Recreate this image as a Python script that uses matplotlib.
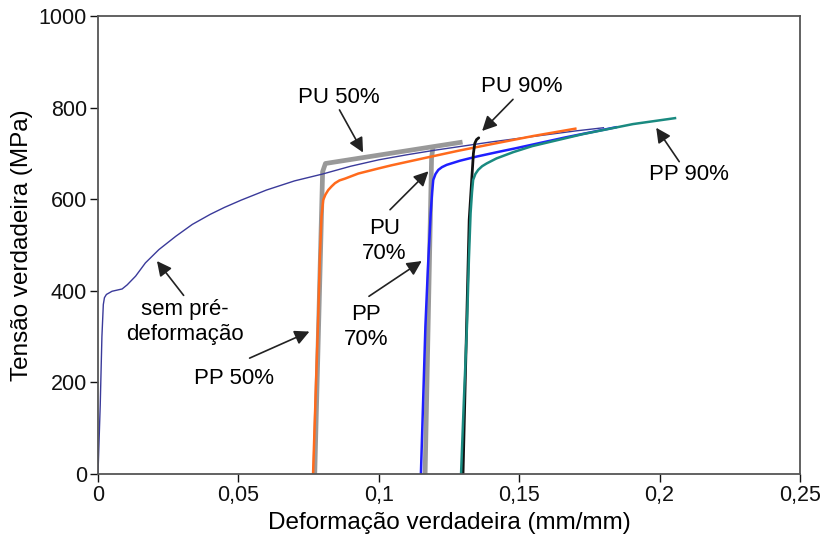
import matplotlib
matplotlib.use("Agg")
import matplotlib.pyplot as plt

plt.rcParams['font.family'] = ['Liberation Sans', 'DejaVu Sans']

# curves (strain mm/mm, stress MPa)
base_x = [0, 0.0008, 0.0014, 0.0019, 0.0023, 0.003, 0.005, 0.0086, 0.0104, 0.0134,
          0.0169, 0.0217, 0.0277, 0.0336, 0.040, 0.045, 0.051, 0.060, 0.070, 0.080,
          0.090, 0.100, 0.110, 0.120, 0.130, 0.140, 0.150, 0.160, 0.170, 0.180]
base_y = [0, 150, 300, 370, 385, 392, 399, 404, 413, 432,
          461, 490, 519, 545, 567, 582, 598, 620, 640, 655,
          672, 686, 697, 707, 716, 725, 733, 741, 749, 756]

pp50_x = [0.0766, 0.0775, 0.0784, 0.0790, 0.0796, 0.0802, 0.0810, 0.0820, 0.0832, 0.0844,
          0.0860, 0.0880, 0.0927, 0.0998, 0.1045, 0.1164, 0.1285, 0.140, 0.155, 0.170]
pp50_y = [0, 170, 337, 470, 562, 598, 610, 620, 628, 635,
          641, 645, 656, 667, 674, 690, 706, 720, 738, 754]

pp70_x = [0.1150, 0.1158, 0.1166, 0.1175, 0.1185, 0.1190, 0.1194, 0.1202, 0.1212, 0.1225,
          0.1242, 0.1289, 0.1348, 0.1431, 0.1486, 0.1665, 0.1844]
pp70_y = [0, 160, 322, 450, 570, 615, 642, 655, 664, 670,
          675, 684, 693, 704, 711, 735, 757]

pp90_x = [0.1293, 0.1303, 0.1314, 0.1321, 0.1327, 0.1332, 0.1336, 0.1344, 0.1354, 0.1368,
          0.1384, 0.1419, 0.1480, 0.1547, 0.1726, 0.1905, 0.2055]
pp90_y = [0, 160, 322, 470, 570, 615, 642, 655, 664, 672,
          678, 689, 703, 716, 742, 764, 777]

pu50_x = [0.0772, 0.0800, 0.0810, 0.129]
pu50_y = [0, 660, 678, 724]

pu70_x = [0.1165, 0.1188, 0.1192]
pu70_y = [0, 690, 709]

pu90_x = [0.1300, 0.1313, 0.1322, 0.1331, 0.1337, 0.1342, 0.1348, 0.1356]
pu90_y = [0, 330, 555, 642, 700, 722, 730, 734]

xticks = [0, 0.05, 0.1, 0.15, 0.2, 0.25]
xtick_labels = ['0', '0,05', '0,1', '0,15', '0,2', '0,25']
yticks = [0, 200, 400, 600, 800, 1000]

# labels: text, text pos, arrow tail, arrow head
notes = [
    ("PU 50%", (0.0856, 823), (0.0860, 795), (0.0944, 702)),
    ("PU 90%", (0.1510, 845), (0.1478, 818), (0.1368, 749)),
    ("PP 90%", (0.2105, 654), (0.2070, 682), (0.1988, 756)),
    ("PU\n70%", (0.1020, 508), (0.1040, 577), (0.1177, 661)),
    ("PP\n70%", (0.0956, 322), (0.0965, 388), (0.1153, 465)),
    ("sem pré-\ndeformação", (0.0311, 331), (0.0305, 390), (0.0210, 465)),
    ("PP 50%", (0.0484, 209), (0.0540, 253), (0.0753, 311)),
]

fig = plt.figure(figsize=(8.22, 5.39), dpi=100)
ax = fig.add_axes([0.1192, 0.1206, 0.854, 0.8497])

ax.plot(pu50_x, pu50_y, color='#999999', lw=3.4, solid_joinstyle='round')
ax.plot(pu70_x, pu70_y, color='#999999', lw=3.4)
ax.plot(base_x, base_y, color='#3a3a9a', lw=1.0)
ax.plot(pp50_x, pp50_y, color='#ff6a1c', lw=1.8)
ax.plot(pp70_x, pp70_y, color='#1f1fff', lw=1.8)
ax.plot(pu90_x, pu90_y, color='#111111', lw=2.0, solid_capstyle='round')
ax.plot(pp90_x, pp90_y, color='#1a8a80', lw=1.8)

for txt, tpos, tail, head in notes:
    ax.text(tpos[0], tpos[1], txt, ha='center', va='center', fontsize=16,
            linespacing=1.25)
    ax.annotate('', xy=head, xytext=tail,
                arrowprops=dict(arrowstyle='-|>', color='#222222', lw=1.2,
                                mutation_scale=22, shrinkA=0, shrinkB=0))

ax.set_xlim(0, 0.25)
ax.set_ylim(0, 1000)
ax.set_xticks(xticks)
ax.set_xticklabels(xtick_labels)
ax.set_yticks(yticks)
ax.tick_params(direction='out', length=6, width=1, colors='#111111',
               labelsize=15.5, pad=2)
for s in ax.spines.values():
    s.set_color('#555555')
    s.set_linewidth(1.3)

ax.set_xlabel("Deformação verdadeira (mm/mm)", fontsize=17.5, labelpad=4)
ax.set_ylabel("Tensão verdadeira (MPa)", fontsize=17.5, labelpad=4)

fig.savefig("out.png", dpi=100)
